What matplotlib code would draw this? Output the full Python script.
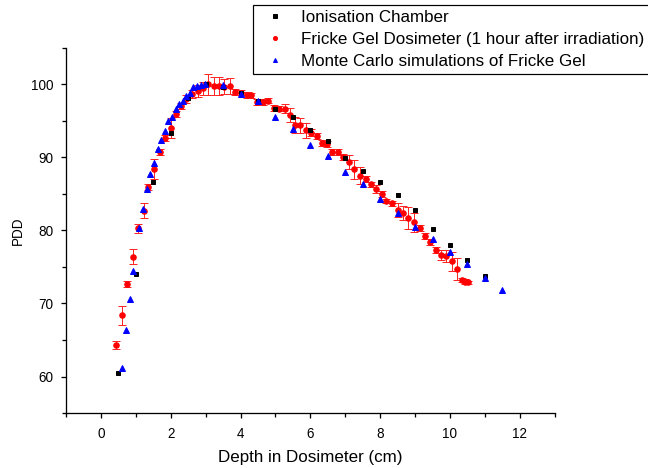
import matplotlib
matplotlib.use("Agg")
import matplotlib.pyplot as plt
from matplotlib.ticker import MultipleLocator

plt.rcParams['font.family'] = ['Liberation Sans', 'DejaVu Sans']

# Ionisation chamber
ic_depth = [0.5, 1.0, 1.5, 2.0, 2.5, 3.0, 3.5, 4.0, 4.5, 5.0, 5.5, 6.0, 6.5,
            7.0, 7.5, 8.0, 8.5, 9.0, 9.5, 10.0, 10.5, 11.0]
ic_pdd = [60.5, 74.1, 86.6, 93.3, 98.2, 100.0, 99.6, 98.8, 97.7, 96.7, 95.6,
          93.7, 92.2, 89.9, 88.2, 86.7, 84.8, 82.8, 80.2, 78.0, 75.9, 73.7]

# Fricke gel dosimeter, 1 hour after irradiation
fg_depth = [0.44, 0.59, 0.74, 0.91, 1.05, 1.22, 1.34, 1.53, 1.69, 1.83, 2.0,
            2.15, 2.29, 2.45, 2.62, 2.79, 2.92, 3.08, 3.24, 3.39, 3.53, 3.69,
            3.83, 4.0, 4.17, 4.31, 4.48, 4.63, 4.79, 4.96, 5.1, 5.26, 5.41,
            5.56, 5.7, 5.87, 6.03, 6.18, 6.32, 6.49, 6.63, 6.79, 6.93, 7.1,
            7.25, 7.41, 7.58, 7.73, 7.89, 8.04, 8.18, 8.35, 8.51, 8.65, 8.8,
            8.96, 9.13, 9.28, 9.43, 9.6, 9.75, 9.9, 10.06, 10.2, 10.35, 10.44,
            10.52]
fg_pdd = [64.3, 68.4, 72.7, 76.4, 80.3, 82.7, 86.0, 88.4, 90.8, 92.7, 94.0,
          95.9, 97.0, 98.0, 98.7, 99.1, 99.5, 100.0, 99.8, 99.8, 99.7, 99.8,
          99.0, 98.9, 98.6, 98.5, 97.6, 97.6, 97.8, 96.8, 96.7, 96.7, 95.8,
          94.5, 94.4, 93.7, 93.4, 92.9, 92.0, 91.8, 90.8, 90.7, 90.1, 89.4,
          88.4, 87.5, 87.0, 86.3, 85.7, 85.0, 84.0, 83.7, 82.8, 82.4, 81.7,
          81.1, 80.3, 79.2, 78.4, 77.3, 76.6, 76.5, 75.8, 74.7, 73.2, 73.0,
          72.9]
fg_err = [0.5, 1.3, 0.45, 1.0, 0.6, 1.0, 0.4, 1.4, 0.4, 0.4, 1.4,
          0.4, 0.4, 0.5, 0.6, 0.8, 0.9, 1.4, 1.2, 1.2, 1.0, 1.1,
          0.4, 0.4, 0.4, 0.3, 0.4, 0.4, 0.4, 0.4, 0.3, 0.6, 1.0,
          1.1, 1.0, 1.0, 0.5, 0.4, 0.4, 0.4, 0.4, 0.4, 0.4, 1.0,
          1.3, 1.2, 0.4, 0.4, 0.5, 0.4, 0.3, 0.4, 1.0, 1.0, 1.5,
          1.3, 0.4, 0.4, 0.4, 0.4, 0.7, 0.8, 1.3, 1.5, 0.3, 0.3,
          0.2]

# Monte Carlo simulation of Fricke gel
mc_depth = [0.61, 0.72, 0.83, 0.93, 1.1, 1.21, 1.32, 1.41, 1.53, 1.62, 1.73,
            1.83, 1.93, 2.04, 2.14, 2.23, 2.34, 2.43, 2.54, 2.64, 2.75, 2.86,
            2.98, 3.5, 4.0, 4.5, 5.0, 5.5, 6.0, 6.5, 7.0, 7.5, 8.0, 8.5, 9.0,
            9.5, 10.0, 10.5, 11.0, 11.5]
mc_pdd = [61.2, 66.4, 70.6, 74.4, 80.3, 83.0, 85.7, 87.8, 89.2, 91.2, 92.4,
          93.6, 95.0, 95.6, 96.7, 97.3, 97.8, 98.4, 98.9, 99.7, 99.8, 99.9,
          100.1, 99.9, 98.7, 97.7, 95.6, 93.9, 91.7, 90.2, 88.0, 86.3, 84.3,
          82.4, 80.5, 78.9, 77.0, 75.4, 73.5, 71.9]

labels = ['Ionisation Chamber',
          'Fricke Gel Dosimeter (1 hour after irradiation)',
          'Monte Carlo simulations of Fricke Gel']

fig = plt.figure(figsize=(9, 6.5), dpi=72)
ax = fig.add_axes([0.102, 0.1175, 0.754, 0.78])

ax.errorbar(fg_depth, fg_pdd, yerr=fg_err, fmt='o', color='red', ms=5.5,
            ecolor=(1, 0.15, 0.15), elinewidth=1, capsize=4, capthick=1,
            zorder=2)
ax.plot(ic_depth, ic_pdd, 's', color='black', ms=4.5, zorder=3)
ax.plot(mc_depth, mc_pdd, '^', color='blue', ms=5.5, zorder=4)

ax.set_xlim(-1, 13)
ax.set_ylim(55, 105)
ax.xaxis.set_major_locator(MultipleLocator(2))
ax.xaxis.set_minor_locator(MultipleLocator(1))
ax.yaxis.set_major_locator(MultipleLocator(10))
ax.yaxis.set_minor_locator(MultipleLocator(5))
ax.spines['top'].set_visible(False)
ax.spines['right'].set_visible(False)
for s in ('left', 'bottom'):
    ax.spines[s].set_linewidth(1.3)
ax.tick_params(which='both', direction='out', width=1.3, labelsize=13.5)
ax.tick_params(which='major', length=5)
ax.tick_params(which='minor', length=4)
ax.tick_params(axis='x', which='major', pad=9)
ax.tick_params(axis='y', which='major', pad=8)

ax.set_xlabel('Depth in Dosimeter (cm)', fontsize=17, labelpad=9)
ax.set_ylabel('PDD', fontsize=13.5, labelpad=6)

handles = [plt.Line2D([], [], marker='s', ls='', color='black', ms=3.5),
           plt.Line2D([], [], marker='o', ls='', color='red', ms=4),
           plt.Line2D([], [], marker='^', ls='', color='blue', ms=4)]
leg = fig.legend(handles, labels, loc='upper left',
                 bbox_to_anchor=(253 / 648, 1 - 5 / 468),
                 fontsize=17, frameon=True, fancybox=False, framealpha=1,
                 edgecolor='black', borderpad=0.3, labelspacing=0.4,
                 handletextpad=0.5, handlelength=2.0, borderaxespad=0)
leg.get_frame().set_linewidth(1.2)

fig.savefig('out.png', dpi=72)
